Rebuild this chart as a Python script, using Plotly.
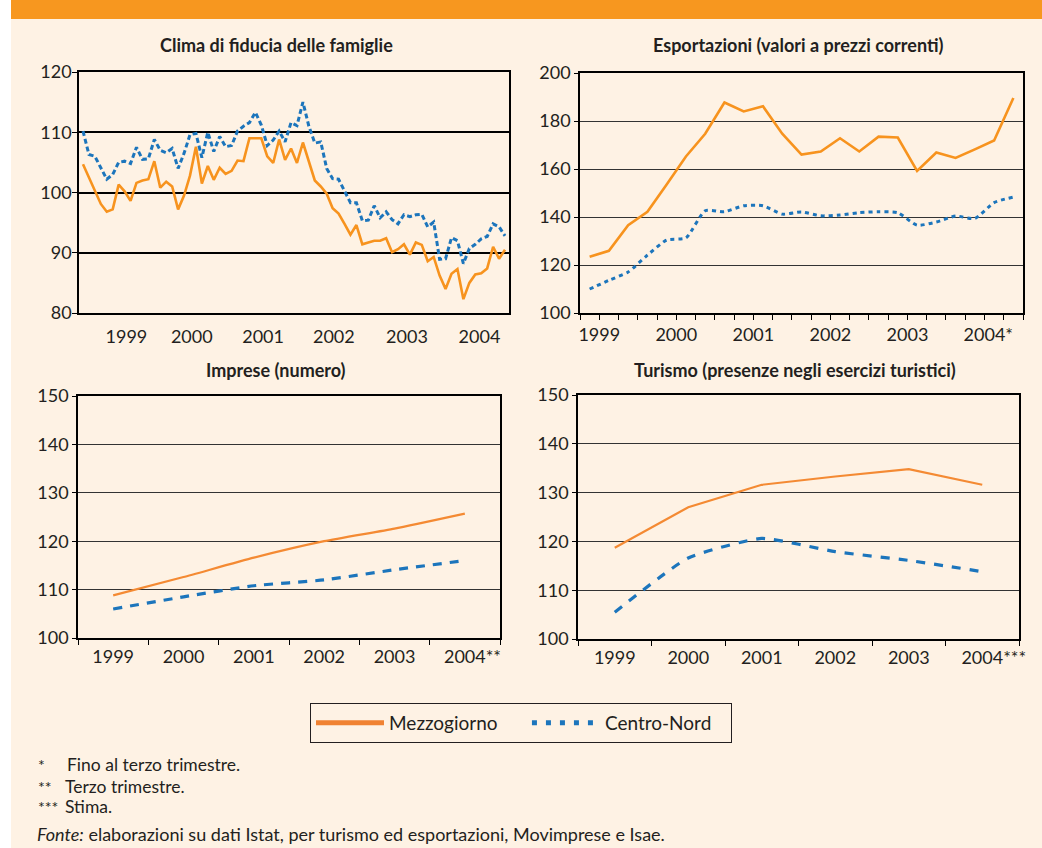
import plotly.graph_objects as go

# ---------------- data ----------------
clima_mezz = [104.7, 102.5, 100.2, 98.1, 96.8, 97.2, 101.3, 100.2, 98.6, 101.6,
              102.0, 102.2, 105.2, 100.8, 101.8, 101.0, 97.2, 99.5, 102.8, 107.6,
              101.5, 104.4, 102.1, 104.1, 103.1, 103.6, 105.3, 105.2, 109.0, 109.0,
              109.0, 106.0, 104.9, 108.8, 105.4, 107.3, 104.9, 108.3, 105.0, 102.0,
              101.0, 99.8, 97.4, 96.5, 94.8, 93.0, 94.6, 91.4, 91.7, 92.0,
              92.0, 92.4, 90.1, 90.6, 91.4, 89.7, 91.7, 91.3, 88.6, 89.3,
              86.2, 84.0, 86.5, 87.3, 82.3, 85.0, 86.4, 86.6, 87.4, 91.0,
              89.0, 90.5]
clima_cn = [110.2, 106.3, 106.0, 104.0, 102.2, 103.0, 105.0, 105.2, 104.8, 107.5,
            105.5, 105.6, 108.8, 107.0, 106.6, 107.3, 104.0, 106.5, 109.6, 109.8,
            105.8, 110.0, 106.8, 109.3, 107.6, 107.8, 110.2, 111.0, 111.6, 113.3,
            111.2, 107.8, 108.7, 110.2, 108.4, 111.6, 111.1, 115.0, 111.0, 108.2,
            108.4, 104.0, 102.3, 102.2, 100.3, 98.3, 98.3, 95.3, 95.4, 97.8,
            95.8, 96.8, 95.5, 94.8, 96.3, 96.0, 96.3, 96.4, 94.3, 95.1,
            88.9, 89.0, 92.5, 92.0, 88.2, 90.7, 91.4, 92.3, 92.7, 94.8,
            94.3, 92.8]
clima_years = ["1999", "2000", "2001", "2002", "2003", "2004"]

export_mezz = [123.4, 125.9, 136.6, 142.2, 153.5, 165.2, 174.7, 187.7, 184.0, 186.1,
               174.7, 166.0, 167.3, 172.8, 167.3, 173.5, 173.1, 159.2, 166.9, 164.6,
               168.2, 171.9, 189.6]
export_cn = [110.0, 113.6, 117.1, 124.1, 130.4, 131.3, 142.6, 142.2, 144.7, 144.7,
             141.2, 142.1, 140.5, 140.8, 141.8, 142.2, 141.8, 136.6, 137.9, 140.4,
             139.4, 146.0, 148.3]
export_years = ["1999", "2000", "2001", "2002", "2003", "2004*"]

imprese_years = ["1999", "2000", "2001", "2002", "2003", "2004**"]
imprese_mezz = [108.8, 112.6, 116.6, 120.0, 122.6, 125.7]
imprese_cn = [106.0, 108.5, 110.8, 112.0, 114.1, 116.0]

turismo_years = ["1999", "2000", "2001", "2002", "2003", "2004***"]
turismo_mezz = [118.7, 127.0, 131.6, 133.3, 134.8, 131.6]
turismo_cn = [105.5, 116.6, 120.6, 117.9, 116.1, 113.8]

series_names = ["Mezzogiorno", "Centro-Nord"]
titles = ["Clima di fiducia delle famiglie",
          "Esportazioni (valori a prezzi correnti)",
          "Imprese (numero)",
          "Turismo (presenze negli esercizi turistici)"]
notes = [("*", "Fino al terzo trimestre."),
         ("**", "Terzo trimestre."),
         ("***", "Stima.")]
fonte = "<i>Fonte:</i> elaborazioni su dati Istat, per turismo ed esportazioni, Movimprese e Isae."

# ---------------- style ----------------
W, H = 1042, 848
ORANGE = "#F7931E"
ORANGE2 = "#F48A33"
BLUE = "#1C75BC"
CREAM = "#FEF2E4"
INK = "#231F20"
FONT = "Lato, sans-serif"


def fx(p):
    return p / W


def fy(p):
    return 1 - p / H


def balanced(label):
    """Centre the digits of a label, letting trailing asterisks hang to the right."""
    stars = len(label) - len(label.rstrip("*"))
    if not stars:
        return label
    pad = "<span style='color:rgba(0,0,0,0)'>" + "*" * stars + "</span>"
    return pad + label


fig = go.Figure()

# top-left
fig.add_trace(go.Scatter(x=list(range(len(clima_mezz))), y=clima_mezz, mode="lines",
                         line=dict(color=ORANGE, width=2.6), xaxis="x", yaxis="y",
                         showlegend=False, hoverinfo="skip"))
fig.add_trace(go.Scatter(x=list(range(len(clima_cn))), y=clima_cn, mode="lines",
                         line=dict(color=BLUE, width=3, dash="5px,3px"), xaxis="x", yaxis="y",
                         showlegend=False, hoverinfo="skip"))
# top-right
fig.add_trace(go.Scatter(x=list(range(len(export_mezz))), y=export_mezz, mode="lines",
                         line=dict(color=ORANGE, width=2.6), xaxis="x2", yaxis="y2",
                         showlegend=False, hoverinfo="skip"))
fig.add_trace(go.Scatter(x=list(range(len(export_cn))), y=export_cn, mode="lines",
                         line=dict(color=BLUE, width=3, dash="4px,4px", shape="spline", smoothing=0.6),
                         xaxis="x2", yaxis="y2", showlegend=False, hoverinfo="skip"))
# bottom-left
fig.add_trace(go.Scatter(x=list(range(len(imprese_mezz))), y=imprese_mezz, mode="lines",
                         line=dict(color=ORANGE2, width=2.2, shape="spline", smoothing=0.5),
                         xaxis="x3", yaxis="y3", showlegend=False, hoverinfo="skip"))
fig.add_trace(go.Scatter(x=list(range(len(imprese_cn))), y=imprese_cn, mode="lines",
                         line=dict(color=BLUE, width=3.2, dash="9px,8px", shape="spline", smoothing=0.5),
                         xaxis="x3", yaxis="y3", showlegend=False, hoverinfo="skip"))
# bottom-right
fig.add_trace(go.Scatter(x=list(range(len(turismo_mezz))), y=turismo_mezz, mode="lines",
                         line=dict(color=ORANGE2, width=2.2), xaxis="x4", yaxis="y4",
                         showlegend=False, hoverinfo="skip"))
fig.add_trace(go.Scatter(x=list(range(len(turismo_cn))), y=turismo_cn, mode="lines",
                         line=dict(color=BLUE, width=3.2, dash="9px,9px", shape="spline", smoothing=0.5),
                         xaxis="x4", yaxis="y4", showlegend=False, hoverinfo="skip"))
# legend entries (legend-only traces carrying the legend styling)
fig.add_trace(go.Scatter(x=[None], y=[None], mode="lines",
                         name=series_names[0] + "\u00a0" * 5,
                         line=dict(color="#F08232", width=5), xaxis="x", yaxis="y"))
fig.add_trace(go.Scatter(x=[None], y=[None], mode="lines",
                         name=series_names[1] + "\u00a0" * 3,
                         line=dict(color=BLUE, width=5, dash="5px,9px"), xaxis="x", yaxis="y"))

tickfont = dict(family=FONT, size=18, color=INK)


def yax(domain, rng, dtick, gridw, gridc, anchor, standoff=0, ticklen=4):
    return dict(domain=domain, range=rng, dtick=dtick, tick0=rng[0], showgrid=True,
                gridcolor=gridc, gridwidth=gridw, zeroline=False, showline=True,
                linecolor="#000", linewidth=1.6, mirror=True, ticks="outside",
                ticklen=ticklen, tickwidth=1.4, tickcolor="#000", tickfont=tickfont,
                anchor=anchor, fixedrange=True, automargin=False,
                ticklabelstandoff=standoff)


layout = dict(
    width=W, height=H, autosize=False,
    margin=dict(l=0, r=0, t=0, b=0, pad=0, autoexpand=False),
    paper_bgcolor=CREAM, plot_bgcolor=CREAM,
    font=dict(family=FONT, color=INK),
    xaxis=dict(domain=[fx(79), fx(509)], range=[-0.673, 71.673], showgrid=False,
               zeroline=False, showline=True, linecolor="#000", linewidth=2, mirror=True,
               ticks="", tickmode="array", tickvals=[7.3, 18.3, 30.3, 42.2, 54.5, 66.7],
               ticktext=clima_years, tickfont=tickfont, anchor="y", fixedrange=True,
               ticklabelstandoff=6, automargin=False),
    yaxis=yax([fy(313), fy(72)], [80, 120], 10, 2, "#000", "x", standoff=-3, ticklen=5),
    xaxis2=dict(domain=[fx(580), fx(1023)], range=[-0.5, 22.5], showgrid=False,
                zeroline=False, showline=True, linecolor="#000", linewidth=1.6, mirror=True,
                ticks="outside", ticklen=5, tickwidth=1.2, tickcolor="#000",
                tickmode="array", tickvals=[0.5 + 4 * k for k in range(6)],
                ticktext=[balanced(t) for t in export_years], tickfont=tickfont,
                anchor="y2", fixedrange=True, automargin=False,
                minor=dict(tickmode="array", tickvals=[i - 0.5 for i in range(24)],
                           ticks="outside", ticklen=5, tickwidth=1.2, tickcolor="#000",
                           showgrid=False)),
    yaxis2=yax([fy(313), fy(73)], [100, 200], 20, 1.3, "#333", "x2"),
    xaxis3=dict(domain=[fx(78), fx(500)], range=[-0.5, 5.5], showgrid=False,
                zeroline=False, showline=True, linecolor="#000", linewidth=1.6, mirror=True,
                ticks="", tickmode="array", tickvals=list(range(6)),
                ticktext=[balanced(t) for t in imprese_years], tickfont=tickfont,
                anchor="y3", fixedrange=True, ticklabelstandoff=2, automargin=False,
                minor=dict(tickmode="array", tickvals=[i - 0.5 for i in range(7)],
                           ticks="outside", ticklen=5, tickwidth=1.2, tickcolor="#000",
                           showgrid=False)),
    yaxis3=yax([fy(638), fy(396)], [100, 150], 10, 1.3, "#333", "x3"),
    xaxis4=dict(domain=[fx(578), fx(1019)], range=[-0.5, 5.5], showgrid=False,
                zeroline=False, showline=True, linecolor="#000", linewidth=1.6, mirror=True,
                ticks="", tickmode="array", tickvals=list(range(6)),
                ticktext=[balanced(t) for t in turismo_years], tickfont=tickfont,
                anchor="y4", fixedrange=True, ticklabelstandoff=2, automargin=False,
                minor=dict(tickmode="array", tickvals=[i - 0.5 for i in range(7)],
                           ticks="outside", ticklen=5, tickwidth=1.2, tickcolor="#000",
                           showgrid=False)),
    yaxis4=yax([fy(639), fy(395)], [100, 150], 10, 1.3, "#333", "x4"),
    legend=dict(orientation="h", x=fx(310), y=fy(703), xanchor="left", yanchor="top",
                bordercolor=INK, borderwidth=1, bgcolor="rgba(0,0,0,0)",
                font=dict(family=FONT, size=19, color=INK), itemwidth=68,
                tracegroupgap=0, itemclick=False, itemdoubleclick=False),
    showlegend=True,
)
fig.update_layout(**layout)

# background decoration
fig.add_shape(type="rect", xref="paper", yref="paper", x0=0, x1=fx(11), y0=0, y1=1,
              fillcolor="#FFFFFF", line_width=0, layer="below")
fig.add_shape(type="rect", xref="paper", yref="paper", x0=fx(11), x1=1, y0=fy(19), y1=1,
              fillcolor="#F7971F", line_width=0, layer="below")

# subplot titles
title_pos = [(276, 45), (798, 45), (276, 370), (795, 370)]
for t, (cx, cy) in zip(titles, title_pos):
    fig.add_annotation(text="<b>" + t + "</b>", x=fx(cx), y=fy(cy), xref="paper", yref="paper",
                       showarrow=False, xanchor="center", yanchor="middle",
                       font=dict(family=FONT, size=18, color=INK))

# footnotes
note_y = [764, 786, 806]
for (sym, txt), yy in zip(notes, note_y):
    fig.add_annotation(text=sym, x=fx(36), y=fy(yy), xref="paper", yref="paper",
                       showarrow=False, xanchor="left", yanchor="middle",
                       font=dict(family=FONT, size=16, color=INK))
    fig.add_annotation(text=txt, x=fx(65 if sym == "*" else 63), y=fy(yy), xref="paper",
                       yref="paper", showarrow=False, xanchor="left", yanchor="middle",
                       font=dict(family=FONT, size=17.5, color=INK))
fig.add_annotation(text=fonte, x=fx(35), y=fy(834), xref="paper", yref="paper",
                   showarrow=False, xanchor="left", yanchor="middle",
                   font=dict(family=FONT, size=18, color=INK))

fig.write_html("out.html", config={"displayModeBar": False, "responsive": False},
               post_script="document.body.style.margin='0';document.body.style.overflow='hidden';")
